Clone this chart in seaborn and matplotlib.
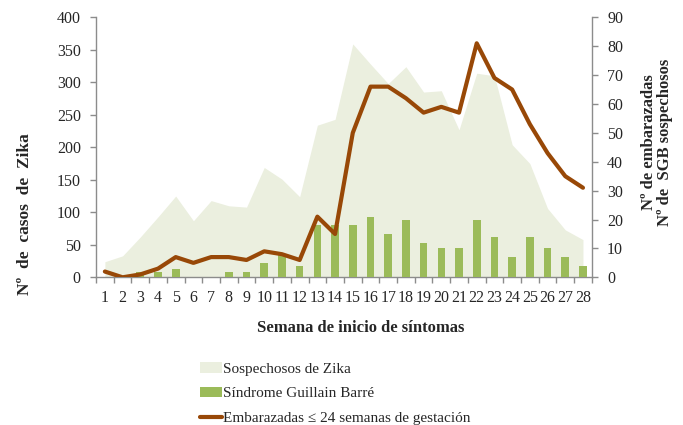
import numpy as np
import pandas as pd
import matplotlib
matplotlib.use('Agg')
import matplotlib.pyplot as plt
from matplotlib.patches import Patch
from matplotlib.lines import Line2D
from matplotlib.ticker import FixedLocator
import seaborn as sns

# ============================================
# DATA (semana epidemiologica 1-28)
# ============================================
semanas = list(range(1, 29))
zika = [24, 33, 62, 93, 125, 87, 118, 110, 108, 169, 151, 124, 234, 243,
        359, 328, 298, 324, 285, 287, 227, 314, 310, 204, 175, 106, 73, 58]
sgb = [0, 0, 2, 2, 3, 0, 0, 2, 2, 5, 8, 4, 18, 18,
       18, 21, 15, 20, 12, 10, 10, 20, 14, 7, 14, 10, 7, 4]
embarazadas = [2, 0, 1, 3, 7, 5, 7, 7, 6, 9, 8, 6, 21, 15,
               50, 66, 66, 62, 57, 59, 57, 81, 69, 65, 53, 43, 35, 31]

left_ticks = [0, 50, 100, 150, 200, 250, 300, 350, 400]
right_ticks = [0, 10, 20, 30, 40, 50, 60, 70, 80, 90]

labels = ['Sospechosos de Zika', 'Síndrome Guillain Barré',
          'Embarazadas ≤ 24 semanas de gestación']

df = pd.DataFrame({'semana': semanas, 'zika': zika, 'sgb': sgb, 'emb': embarazadas})

# colores
c_area = '#ebefdf'
c_bar = '#9bbb59'
c_line = '#984807'
c_axis = '#8c8c8c'
c_text = '#262626'

sns.set_theme(style='white')
plt.rcParams['font.family'] = ['Liberation Serif', 'DejaVu Serif']
plt.rcParams['text.color'] = c_text
plt.rcParams['axes.labelcolor'] = c_text

fig = plt.figure(figsize=(6.83, 4.25), dpi=100)
ax = fig.add_axes([0.1406, 0.3475, 0.8665 - 0.1406, 0.9593 - 0.3475])
ax2 = ax.twinx()

# --- area: sospechosos de Zika (eje izquierdo) ---
ax.fill_between(df['semana'], df['zika'], 0, color=c_area, linewidth=0)

# --- barras: SGB (eje derecho) ---
sns.barplot(data=df, x='semana', y='sgb', ax=ax2, native_scale=True,
            width=0.43, color=c_bar, saturation=1, linewidth=0)

# --- linea: embarazadas (eje derecho) ---
sns.lineplot(data=df, x='semana', y='emb', ax=ax2, color=c_line,
             linewidth=3, solid_joinstyle='round', solid_capstyle='round')

ax.set_xlim(0.5, 28.5)
ax2.set_xlim(0.5, 28.5)
ax.set_ylim(0, 400)
ax2.set_ylim(0, 90)
ax.set_yticks(left_ticks)
ax2.set_yticks(right_ticks)
ax.set_xticks(semanas)
ax.set_xticklabels([str(s) for s in semanas])
ax.xaxis.set_minor_locator(FixedLocator(np.arange(0.5, 29, 1)))
ax2.set_xlabel('')
ax2.set_ylabel('')
ax.set_xlabel('')
ax.set_ylabel('')

for a in (ax, ax2):
    a.spines['top'].set_visible(False)
    for side in ('left', 'right', 'bottom'):
        a.spines[side].set_color(c_axis)
        a.spines[side].set_linewidth(1)
ax.spines['right'].set_visible(False)
ax2.spines['left'].set_visible(False)
ax2.spines['bottom'].set_visible(False)

ax.tick_params(axis='x', which='major', length=0, pad=9, labelsize=11.5, labelcolor=c_text)
ax.tick_params(axis='x', which='minor', length=4, width=1, color=c_axis, direction='out', bottom=True)
ax.tick_params(axis='y', length=4, width=1, color=c_axis, direction='out', left=True,
               pad=7, labelsize=11.5, labelcolor=c_text)
ax2.tick_params(axis='y', length=4, width=1, color=c_axis, direction='out', right=True,
                pad=7, labelsize=11.5, labelcolor=c_text)
ax2.tick_params(axis='x', bottom=False, labelbottom=False)

# --- titulos de ejes ---
fig.text(25 / 683, 1 - 214 / 425, 'Nº  de  casos  de  Zika', rotation=90,
         ha='center', va='center', fontsize=12.5, fontweight='bold')
fig.text(657 / 683, 1 - 142 / 425, 'Nº de embarazadas\nNº de  SGB sospechosos',
         rotation=90, ha='center', va='center', fontsize=12, fontweight='bold',
         multialignment='center', linespacing=1.05)
fig.text(361 / 683, 1 - 328 / 425, 'Semana de inicio de síntomas',
         ha='center', va='center', fontsize=12, fontweight='bold')

# --- leyenda ---
handles = [Patch(facecolor=c_area, edgecolor='none'),
           Patch(facecolor=c_bar, edgecolor='none'),
           Line2D([0], [0], color=c_line, linewidth=3)]
fig.legend(handles, labels, loc='upper left', bbox_to_anchor=(200 / 683, 1 - 362 / 425),
           frameon=False, fontsize=11, handlelength=1.45, handleheight=0.7,
           handletextpad=0.05, labelspacing=0.72, borderaxespad=0, borderpad=0)

fig.savefig('out.png', dpi=100)
